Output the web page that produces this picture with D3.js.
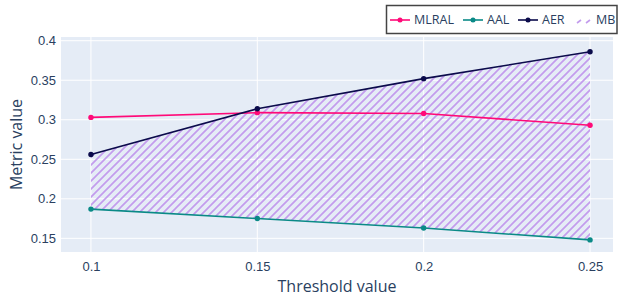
<!DOCTYPE html>
<html>
<head>
<meta charset="utf-8">
<script src="https://cdn.jsdelivr.net/npm/d3@7"></script>
<style>
  body { margin: 0; background: #fff; }
  svg { display: block; font-family: "Open Sans", sans-serif; }
  .tick text { fill: #2a3f5f; font-size: 13px; }
</style>
</head>
<body>
<svg id="chart" width="618" height="297"></svg>
<script>
// ---------- Data ----------
const thresholds = [0.1, 0.15, 0.2, 0.25];
const mlral = [0.303, 0.309, 0.308, 0.293];
const aal = [0.187, 0.175, 0.163, 0.148];
const aer = [0.256, 0.314, 0.352, 0.386];
const xTicks = [0.1, 0.15, 0.2, 0.25];
const yTicks = [0.15, 0.2, 0.25, 0.3, 0.35, 0.4];

const series = [
  { name: "MLRAL", values: mlral, color: "#ff0a78" },
  { name: "AAL", values: aal, color: "#0a8a87" },
  { name: "AER", values: aer, color: "#0b0b4b" }
];
const hatchColor = "#c39ced";

// ---------- Layout ----------
const svg = d3.select("#chart");
const plot = { left: 61, right: 613, top: 37, bottom: 252 };

const x = d3.scaleLinear().domain([0.091, 0.2569]).range([plot.left, plot.right]);
const y = d3.scaleLinear().domain([0.1327, 0.4047]).range([plot.bottom, plot.top]);

// pattern
const defs = svg.append("defs");
const pat = defs.append("pattern")
  .attr("id", "hatch")
  .attr("patternUnits", "userSpaceOnUse")
  .attr("width", 8).attr("height", 8);
pat.append("path")
  .attr("d", "M-1,1 l2,-2 M0,8 l8,-8 M7,9 l2,-2")
  .attr("stroke", hatchColor)
  .attr("stroke-width", 1.7);

// background
svg.append("rect")
  .attr("x", plot.left).attr("y", plot.top)
  .attr("width", plot.right - plot.left).attr("height", plot.bottom - plot.top)
  .attr("fill", "#e5ecf6");

// grid
const grid = svg.append("g");
grid.selectAll(".gx").data(xTicks).enter().append("line")
  .attr("x1", d => x(d)).attr("x2", d => x(d))
  .attr("y1", plot.top).attr("y2", plot.bottom)
  .attr("stroke", "#fff").attr("stroke-width", 1);
grid.selectAll(".gy").data(yTicks).enter().append("line")
  .attr("y1", d => y(d)).attr("y2", d => y(d))
  .attr("x1", plot.left).attr("x2", plot.right)
  .attr("stroke", "#fff").attr("stroke-width", 1);

// axes (text only)
const xAxis = d3.axisBottom(x).tickValues(xTicks).tickFormat(d3.format("")).tickSize(0).tickPadding(10);
svg.append("g").attr("transform", `translate(0,${plot.bottom})`).call(xAxis)
  .call(g => g.select(".domain").remove());
const yAxis = d3.axisLeft(y).tickValues(yTicks).tickFormat(d3.format("")).tickSize(0).tickPadding(5);
svg.append("g").attr("transform", `translate(${plot.left},0)`).call(yAxis)
  .call(g => g.select(".domain").remove());

// axis titles
svg.append("text")
  .attr("x", (plot.left + plot.right) / 2).attr("y", 292)
  .attr("text-anchor", "middle")
  .attr("fill", "#2a3f5f").attr("font-size", 16)
  .text("Threshold value");
svg.append("text")
  .attr("transform", `translate(22,${(plot.top + plot.bottom) / 2}) rotate(-90)`)
  .attr("text-anchor", "middle")
  .attr("fill", "#2a3f5f").attr("font-size", 16)
  .text("Metric value");

// MB hatched band between AAL and AER
const area = d3.area()
  .x((d, i) => x(thresholds[i]))
  .y0((d, i) => y(aal[i]))
  .y1((d, i) => y(aer[i]));
svg.append("path")
  .datum(thresholds)
  .attr("d", area)
  .attr("fill", "url(#hatch)");

// lines and markers
const line = d3.line().x((d, i) => x(thresholds[i])).y(d => y(d));
series.forEach(s => {
  svg.append("path")
    .datum(s.values)
    .attr("d", line)
    .attr("fill", "none")
    .attr("stroke", s.color)
    .attr("stroke-width", 1.6);
  svg.selectAll(null).data(s.values).enter().append("circle")
    .attr("cx", (d, i) => x(thresholds[i]))
    .attr("cy", d => y(d))
    .attr("r", 2.7)
    .attr("fill", s.color);
});

// legend
const legend = svg.append("g");
legend.append("rect")
  .attr("x", 386.5).attr("y", 5.5)
  .attr("width", 230.5).attr("height", 28)
  .attr("fill", "#fff")
  .attr("stroke", "#444").attr("stroke-width", 1.5);

const legendItems = [
  { name: "MLRAL", color: series[0].color, x0: 390, tx: 414 },
  { name: "AAL", color: series[1].color, x0: 463, tx: 487 },
  { name: "AER", color: series[2].color, x0: 518, tx: 542 }
];
const ly = 20;
legendItems.forEach(it => {
  legend.append("line")
    .attr("x1", it.x0).attr("x2", it.x0 + 20)
    .attr("y1", ly).attr("y2", ly)
    .attr("stroke", it.color).attr("stroke-width", 1.6);
  legend.append("circle")
    .attr("cx", it.x0 + 10).attr("cy", ly).attr("r", 2.5)
    .attr("fill", it.color);
  legend.append("text")
    .attr("x", it.tx).attr("y", ly)
    .attr("dy", "0.35em")
    .attr("fill", "#2a3f5f").attr("font-size", 12.5)
    .text(it.name);
});
// MB legend symbol: two short hatch dashes
legend.append("path")
  .attr("d", "M577,23 l4,-3 M586,23 l4,-3")
  .attr("stroke", hatchColor).attr("stroke-width", 1.6);
legend.append("text")
  .attr("x", 596).attr("y", ly)
  .attr("dy", "0.35em")
  .attr("fill", "#2a3f5f").attr("font-size", 12.5)
  .text("MB");
</script>
</body>
</html>
